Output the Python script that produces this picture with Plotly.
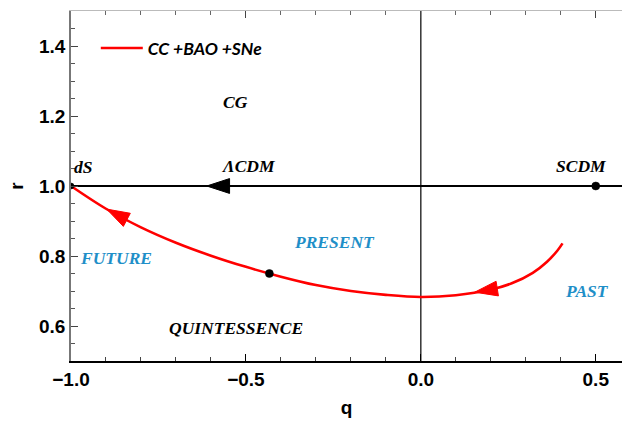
import numpy as np
import plotly.graph_objects as go

# ---- data ----
q_curve = [-1.0, -0.9, -0.8, -0.7, -0.6, -0.5, -0.4, -0.3, -0.2, -0.1,
           0.0, 0.1, 0.2, 0.26, 0.32, 0.36, 0.39, 0.405]
r_curve = [1.0, 0.935, 0.882, 0.838, 0.801, 0.769, 0.741, 0.717, 0.700, 0.689,
           0.683, 0.688, 0.704, 0.722, 0.752, 0.783, 0.815, 0.836]
series_name = "CC +BAO +SNe"

lcdm_q = [0.575, -1.0]
lcdm_r = [1.0, 1.0]

points_q = [-0.433, 0.5, -1.0]
points_r = [0.750, 1.0, 1.0]

# arrow (tip q, tail q) along curve and along the r=1 line
curve_arrows = [(-0.898, -0.888), (0.154, 0.164)]
line_arrows = [(-0.612, -0.602)]

labels = ["dS", "CG", "ΛCDM", "SCDM", "QUINTESSENCE"]
labels_q = [-0.965, -0.531, -0.493, 0.459, -0.527]
labels_r = [1.055, 1.239, 1.056, 1.056, 0.593]

blue_labels = ["FUTURE", "PRESENT", "PAST"]
blue_q = [-0.871, -0.246, 0.476]
blue_r = [0.795, 0.839, 0.700]

x_range = [-1.0, 0.575]
y_range = [0.5, 1.5]
x_ticks = [-1.0, -0.5, 0.0, 0.5]
y_ticks = [0.6, 0.8, 1.0, 1.2, 1.4]

RED = "#ff0000"
BLUE = "#1f8fc8"

fig = go.Figure()

# vertical q=0 line
fig.add_trace(go.Scatter(x=[0, 0], y=y_range, mode="lines",
                         line=dict(color="black", width=1.2), showlegend=False,
                         hoverinfo="skip"))
# r = 1 line
fig.add_trace(go.Scatter(x=lcdm_q, y=lcdm_r, mode="lines",
                         line=dict(color="black", width=2), showlegend=False))
# red curve
fig.add_trace(go.Scatter(x=q_curve, y=r_curve, mode="lines", name=series_name,
                         line=dict(color=RED, width=2.6, shape="spline", smoothing=1.0)))
# points
fig.add_trace(go.Scatter(x=points_q, y=points_r, mode="markers",
                         marker=dict(color="black", size=[8, 8, 6], opacity=1,
                                     line=dict(width=0.5, color="black")),
                         showlegend=False))

# arrowheads as oriented markers (tail -> tip, angle from previous point)
def arrow_trace(qs, rs, color):
    return go.Scatter(
        x=qs, y=rs, mode="markers", showlegend=False, hoverinfo="skip",
        marker=dict(symbol="arrow", size=[0, 24], color=color, opacity=1,
                    angleref="previous", line=dict(width=1, color=color)))

for tip, tail in curve_arrows:
    fig.add_trace(arrow_trace([tail, tip],
                              [float(np.interp(tail, q_curve, r_curve)),
                               float(np.interp(tip, q_curve, r_curve))], RED))
for tip, tail in line_arrows:
    fig.add_trace(arrow_trace([tail, tip], [1.0, 1.0], "black"))

# top axis for mirrored ticks
fig.add_trace(go.Scatter(x=x_range, y=[None, None], xaxis="x2", showlegend=False,
                         hoverinfo="skip"))

annotations = []
lab_font = dict(family="Liberation Serif", size=17.5, weight="bold", style="italic")
for t, xq, yr in zip(labels, labels_q, labels_r):
    annotations.append(dict(x=xq, y=yr, text=t, showarrow=False, xref="x", yref="y",
                            font=dict(lab_font, color="black")))
for t, xq, yr in zip(blue_labels, blue_q, blue_r):
    annotations.append(dict(x=xq, y=yr, text=t, showarrow=False, xref="x", yref="y",
                            font=dict(lab_font, color=BLUE)))

tickfont = dict(family="Liberation Sans", size=19, color="black", weight="bold")

fig.update_layout(
    width=622, height=425,
    margin=dict(l=71, r=0, t=11, b=64),
    plot_bgcolor="white", paper_bgcolor="white",
    annotations=annotations,
    showlegend=True,
    legend=dict(x=0.045, y=0.894, xanchor="left", yanchor="middle",
                bgcolor="rgba(0,0,0,0)", itemwidth=42,
                font=dict(family="Lato", size=17.5, color="black",
                          weight="bold", style="italic")),
    xaxis=dict(range=x_range, tickvals=x_ticks, ticktext=[f"{v:.1f}".replace("-", "−") for v in x_ticks],
               showgrid=False, zeroline=False, showline=True, linecolor="black", linewidth=1.5,
               ticks="inside", ticklen=7, tickcolor="black", tickwidth=1,
               minor=dict(dtick=0.1, ticks="inside", ticklen=4, tickcolor="#444"),
               tickfont=tickfont,
               title=dict(text="q", font=dict(family="Liberation Sans", size=19, weight="bold", color="black"),
                          standoff=12)),
    xaxis2=dict(range=x_range, overlaying="x", side="top", matches="x",
                tickvals=x_ticks, showticklabels=False, showgrid=False, zeroline=False,
                showline=True, linecolor="#bbbbbb", linewidth=1,
                ticks="inside", ticklen=7, tickcolor="#444",
                minor=dict(dtick=0.1, ticks="inside", ticklen=4, tickcolor="#666")),
    yaxis=dict(range=y_range, tickvals=y_ticks, ticktext=[f"{v:.1f}" for v in y_ticks],
               showgrid=False, zeroline=False, showline=True, linecolor="#777777", linewidth=1.5,
               ticks="inside", ticklen=7, tickcolor="#444",
               minor=dict(dtick=0.05, ticks="inside", ticklen=4, tickcolor="#555"),
               tickfont=tickfont,
               title=dict(text="r", font=dict(family="Liberation Sans", size=19, weight="bold", color="black"),
                          standoff=10)),
)

fig.write_html("out.html")
